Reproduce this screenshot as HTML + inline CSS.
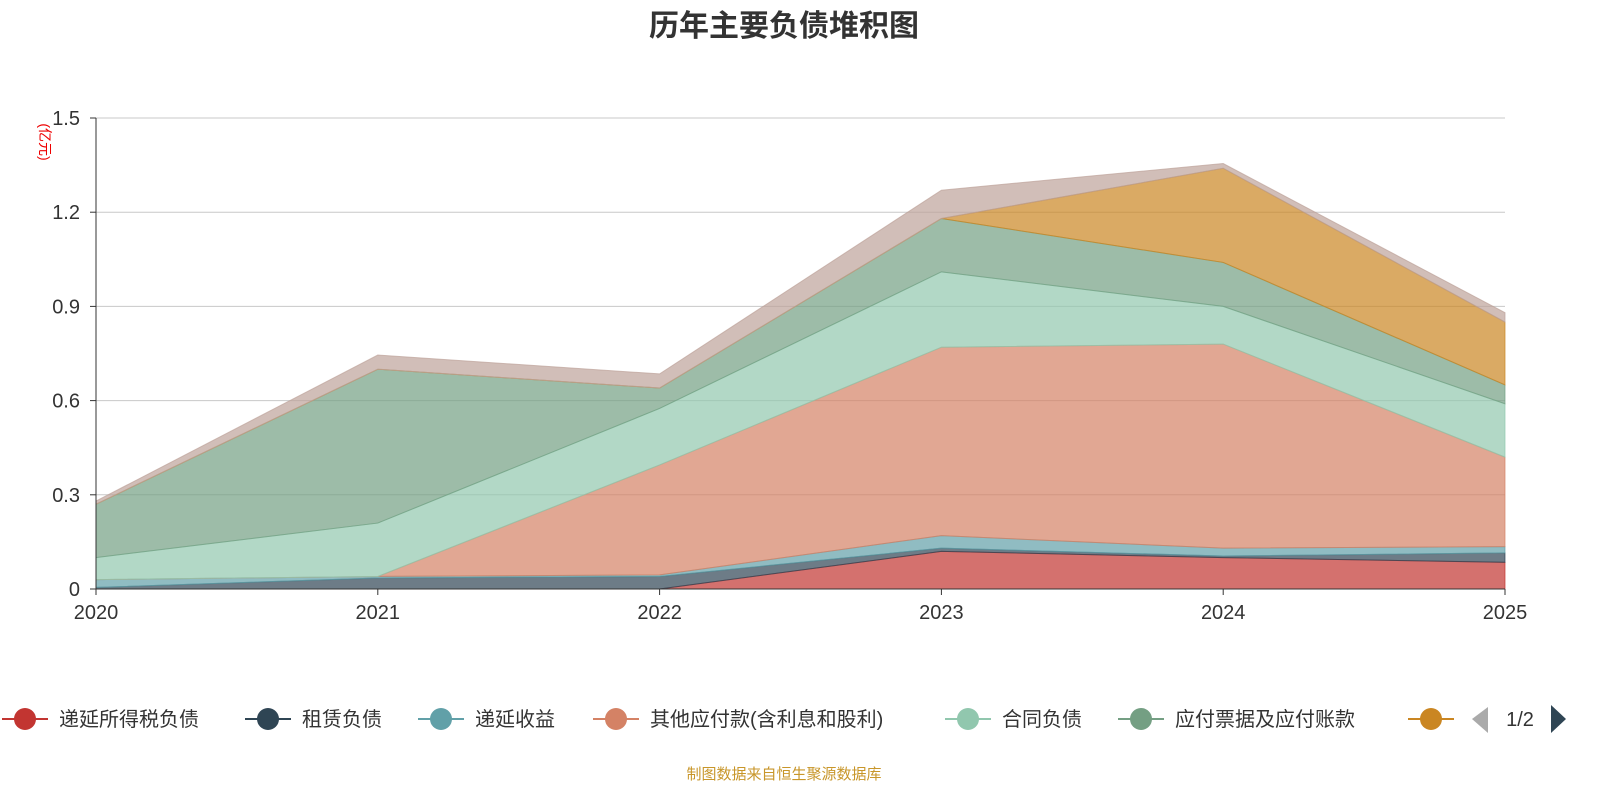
<!DOCTYPE html>
<html><head><meta charset="utf-8"><style>
body{margin:0;width:1600px;height:800px;background:#fff;overflow:hidden;font-family:"Liberation Sans","Noto Sans CJK SC",sans-serif;}
svg text{font-family:"Liberation Sans","Noto Sans CJK SC",sans-serif;}
</style></head><body>
<svg id="c" width="1600" height="800">
<text x="784" y="36" text-anchor="middle" font-size="30" font-weight="bold" fill="#333">历年主要负债堆积图</text>
<text transform="translate(40,142) rotate(90)" text-anchor="middle" font-size="14" fill="#e00">(亿元)</text>
<g id="grid"></g><g id="areas"></g><g id="axes"></g><g id="legend"></g>
<text x="784" y="779" text-anchor="middle" font-size="15" fill="#c8962a">制图数据来自恒生聚源数据库</text>
</svg>
<script>
const years=['2020','2021','2022','2023','2024','2025'];
const yTicks=[0,0.3,0.6,0.9,1.2,1.5];
const deferredTax=[0,0,0,0.12,0.10,0.085];
const lease=[0.005,0.035,0.04,0.01,0.005,0.03];
const deferredIncome=[0.025,0.005,0.005,0.04,0.025,0.02];
const otherPayables=[0,0,0.35,0.60,0.65,0.285];
const contractLiab=[0.07,0.17,0.18,0.24,0.12,0.17];
const notesPayable=[0.17,0.49,0.065,0.17,0.14,0.06];
const seriesG=[0,0,0,0,0.30,0.20];
const seriesH=[0.01,0.045,0.045,0.09,0.015,0.03];
const names=['递延所得税负债','租赁负债','递延收益','其他应付款(含利息和股利)','合同负债','应付票据及应付账款','短期借款','应付职工薪酬'];
const colors=['#c23531','#2f4554','#61a0a8','#d48265','#91c7ae','#749f83','#ca8622','#bda29a'];
const series=[deferredTax,lease,deferredIncome,otherPayables,contractLiab,notesPayable,seriesG,seriesH];
const NS='http://www.w3.org/2000/svg';
const x=i=>96+i*(1505-96)/(years.length-1);
const y=v=>589-v*(589-118)/1.5;
function mk(t,a,p){const e=document.createElementNS(NS,t);for(const k in a)e.setAttribute(k,a[k]);p.appendChild(e);return e;}
const grid=document.getElementById('grid'),axes=document.getElementById('axes'),areas=document.getElementById('areas'),lg=document.getElementById('legend');
yTicks.forEach(t=>{
 if(t>0){const l=mk('line',{x1:96,x2:1505,y1:y(t),y2:y(t),stroke:'#c8c8c8'},grid);
 
 }
 const tx=mk('text',{x:80,y:y(t)+7,'text-anchor':'end','font-size':20,fill:'#333'},axes);tx.textContent=t===0?'0':t.toFixed(1);
 
 
 mk('line',{x1:90,x2:96,y1:y(t),y2:y(t),stroke:'#333'},axes);
});
mk('line',{x1:96,x2:96,y1:118,y2:589,stroke:'#333'},axes);
mk('line',{x1:96,x2:1505,y1:589,y2:589,stroke:'#333'},axes);
years.forEach((yr,i)=>{
 mk('line',{x1:x(i),x2:x(i),y1:589,y2:595,stroke:'#333'},axes);
 const tx=mk('text',{x:x(i),y:619,'text-anchor':'middle','font-size':20,fill:'#333'},axes);tx.textContent=yr;
 
 
});
let base=years.map(()=>0);
series.forEach((s,k)=>{
 const top=s.map((v,i)=>base[i]+v);
 let d='M'+top.map((v,i)=>x(i)+','+y(v)).join('L');
 for(let i=years.length-1;i>=0;i--)d+='L'+x(i)+','+y(base[i]);
 const p=mk('path',{d:d+'Z',fill:colors[k],'fill-opacity':0.7,stroke:colors[k],'stroke-opacity':0.7,'stroke-width':1},areas);
 
 
 base=top;
});
const lx=[2,245,418,593,945,1118,1408];
lx.forEach((px,k)=>{
 const g=mk('g',{},lg);
 
 
 mk('line',{x1:px,x2:px+46,y1:719,y2:719,stroke:colors[k],'stroke-width':2},g);
 mk('circle',{cx:px+23,cy:719,r:11,fill:colors[k]},g);
 if(k<6){const t=mk('text',{x:px+57,y:726,'font-size':20,fill:'#333'},g);t.textContent=names[k];}
});
const pl=mk('path',{d:'M1488,707L1472,719L1488,733Z',fill:'#aaa'},lg);


const pt=mk('text',{x:1520,y:726,'text-anchor':'middle','font-size':20,fill:'#333'},lg);pt.textContent='1/2';


const pn=mk('path',{d:'M1551,705L1566,719L1551,733Z',fill:'#2f4554'},lg);


</script>
</body></html>
